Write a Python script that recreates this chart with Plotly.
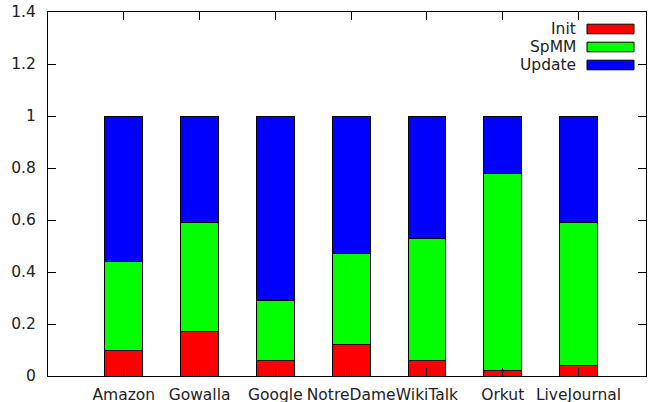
import plotly.graph_objects as go

categories = ["Amazon", "Gowalla", "Google", "NotreDame", "WikiTalk", "Orkut", "LiveJournal"]
init_vals = [0.10, 0.17, 0.06, 0.12, 0.06, 0.02, 0.04]
spmm_vals = [0.34, 0.42, 0.23, 0.35, 0.47, 0.76, 0.55]
update_vals = [0.56, 0.41, 0.71, 0.53, 0.47, 0.22, 0.41]
series_names = ["Init", "SpMM", "Update"]
series_colors = ["#ff0000", "#00ff00", "#0000ff"]
y_ticks = [0, 0.2, 0.4, 0.6, 0.8, 1, 1.2, 1.4]
y_tick_text = ["0", "0.2", "0.4", "0.6", "0.8", "1", "1.2", "1.4"]

FONT = "DejaVu Sans"
FS = 15.5
xpos = list(range(len(categories)))

W, H = 657, 402
L, R, T, B = 48, 11, 12, 26
PW, PH = W - L - R, H - T - B


def px(x):
    return (x - L) / PW


def py(y):
    return (H - B - y) / PH


fig = go.Figure()
for name, vals, col in zip(series_names, [init_vals, spmm_vals, update_vals], series_colors):
    fig.add_trace(go.Bar(
        x=xpos, y=vals, name=name, width=0.5,
        marker=dict(color=col, line=dict(color="black", width=1)),
        showlegend=False,
    ))

# gnuplot-style key: text then swatch, top right
key_y = [29, 47, 65]
for name, col, yy in zip(series_names, series_colors, key_y):
    fig.add_annotation(x=px(578), y=py(yy), xref="paper", yref="paper",
                       text=name, showarrow=False, xanchor="right", yanchor="middle",
                       font=dict(family=FONT, size=FS, color="#222"))
    fig.add_shape(type="rect", xref="paper", yref="paper",
                  x0=px(587), x1=px(634), y0=py(yy - 4.8), y1=py(yy + 4.8),
                  fillcolor=col, line=dict(color="black", width=1))

fig.update_layout(
    width=W, height=H,
    margin=dict(l=L, r=R, t=T, b=B),
    paper_bgcolor="white", plot_bgcolor="white",
    barmode="stack",
    font=dict(family=FONT, size=FS, color="#222"),
)

fig.update_xaxes(
    range=[-1, 6.89], tickmode="array", tickvals=xpos, ticktext=categories,
    tickangle=0, showgrid=False, zeroline=False, automargin=False,
    showline=True, linecolor="black", linewidth=1, mirror="allticks",
    ticks="inside", ticklen=8, tickcolor="black", tickwidth=1,
    ticklabelstandoff=4,
)
fig.update_yaxes(
    range=[0, 1.4], tickmode="array", tickvals=y_ticks, ticktext=y_tick_text,
    showgrid=False, zeroline=False, automargin=False,
    showline=True, linecolor="black", linewidth=1, mirror="allticks",
    ticks="inside", ticklen=8, tickcolor="black", tickwidth=1,
    ticklabelstandoff=8,
)
fig.write_html("out.html")
